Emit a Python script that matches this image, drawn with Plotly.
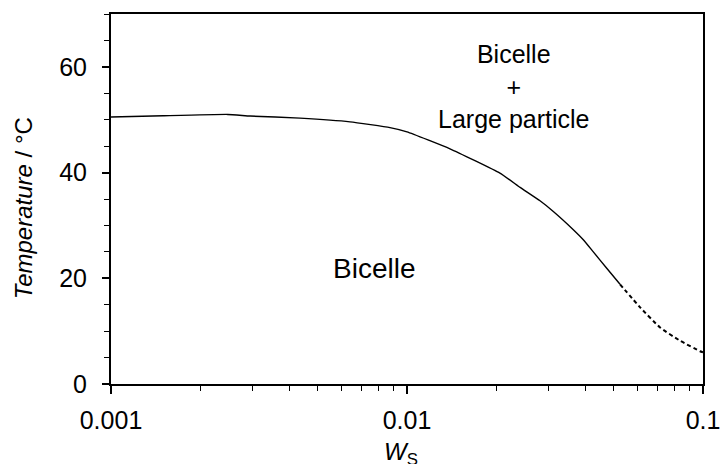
import plotly.graph_objects as go

# Phase boundary: surfactant weight fraction W_S vs temperature (°C)
ws_solid = [0.001, 0.0015, 0.00248, 0.00295, 0.00435, 0.00642, 0.00876, 0.01,
            0.01397, 0.0206, 0.0241, 0.02814, 0.03121, 0.03647, 0.03941,
            0.0426, 0.04729, 0.05244]
temp_solid = [50.5, 50.75, 51.0, 50.7, 50.3, 49.6, 48.5, 47.7,
              44.5, 39.9, 37.2, 34.66, 32.65, 29.2, 27.3,
              25.0, 21.9, 18.86]

# Extrapolated part of the boundary
ws_dash = [0.05244, 0.0613, 0.0716, 0.0836, 0.0977, 0.1]
temp_dash = [18.86, 14.5, 10.7, 8.2, 6.2, 6.0]

x_tickvals = [0.001, 0.01, 0.1]
x_ticktext = ["0.001", "0.01", "0.1"]

FONT = "Arial, Liberation Sans, sans-serif"

fig = go.Figure()
fig.add_trace(go.Scatter(x=ws_solid, y=temp_solid, mode="lines",
                         line=dict(color="black", width=1.4, shape="spline", smoothing=0.4),
                         showlegend=False, hoverinfo="skip"))
fig.add_trace(go.Scatter(x=ws_dash, y=temp_dash, mode="lines",
                         line=dict(color="black", width=2, dash="4px,3px", shape="spline", smoothing=0.5),
                         showlegend=False, hoverinfo="skip"))

fig.update_layout(
    width=726, height=464,
    margin=dict(l=111, r=23, t=14, b=80),
    paper_bgcolor="white", plot_bgcolor="white",
    font=dict(family=FONT, size=24, color="black"),
    xaxis=dict(type="log", range=[-3, -1], tickvals=x_tickvals, ticktext=x_ticktext,
               ticks="outside", ticklen=8, tickwidth=1.5, tickcolor="black",
               showline=True, linecolor="black", linewidth=2, mirror=True,
               showgrid=False, zeroline=False, ticklabelstandoff=5, automargin=False,
               tickfont=dict(size=25),
               minor=dict(ticks="outside", ticklen=5, tickwidth=1.3, tickcolor="black",
                          dtick="D1", showgrid=False)),
    yaxis=dict(range=[0, 70], dtick=20, tick0=0, automargin=False,
               ticks="outside", ticklen=7, tickwidth=1.5, tickcolor="black",
               showline=True, linecolor="black", linewidth=2, mirror=True,
               showgrid=False, zeroline=False, ticklabelstandoff=10,
               tickfont=dict(size=25),
               minor=dict(ticks="outside", ticklen=5, tickwidth=1.3, tickcolor="black",
                          dtick=5, showgrid=False)),
    annotations=[
        dict(text="Bicelle", xref="paper", yref="paper", x=0.444, y=0.312,
             showarrow=False, font=dict(size=28), xanchor="center", yanchor="middle"),
        dict(text="Bicelle<br>+<br>Large particle", xref="paper", yref="paper",
             x=0.680, y=0.804, showarrow=False, font=dict(size=25),
             xanchor="center", yanchor="middle"),
        dict(text="<i>Temperature</i> / °C", xref="paper", yref="paper",
             x=-0.1486, y=0.475, textangle=-90, showarrow=False, font=dict(size=24),
             xanchor="center", yanchor="middle"),
        dict(text="<i>W</i><sub>S</sub>", xref="paper", yref="paper",
             x=0.49, y=-0.14, showarrow=False, font=dict(size=24),
             xanchor="center", yanchor="top"),
    ],
)

fig.write_html("out.html")
